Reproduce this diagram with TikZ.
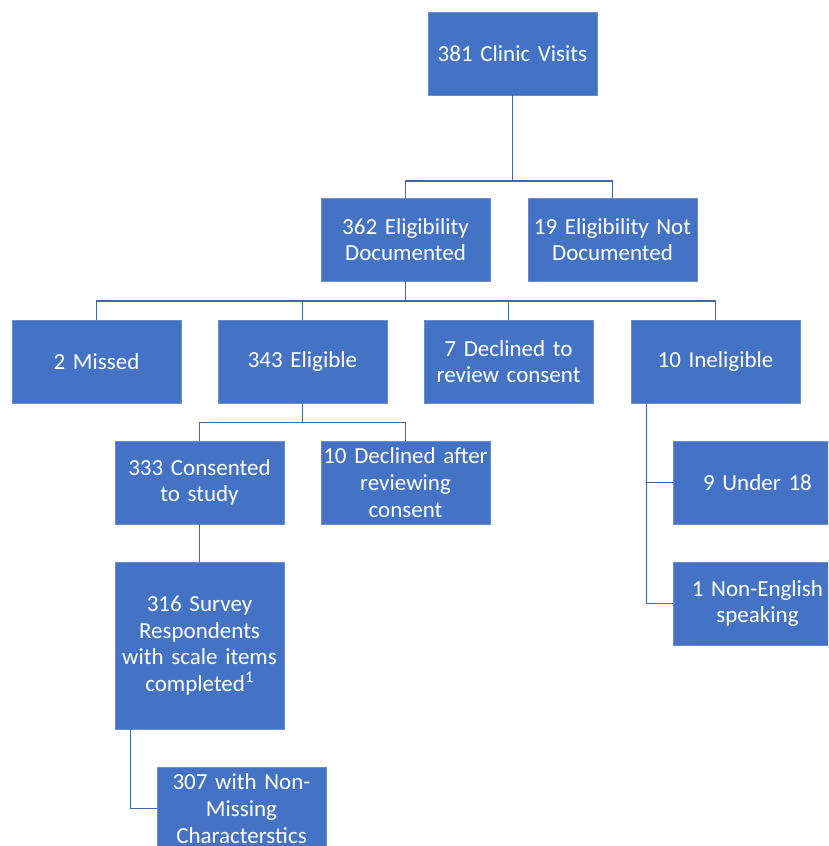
\documentclass[tikz,border=0pt]{standalone}
\usepackage{fontspec}
\setmainfont{Carlito}
\definecolor{boxblue}{RGB}{68,114,196}
\definecolor{lineblue}{RGB}{64,102,172}
\begin{document}
\begin{tikzpicture}[x=1pt,y=-1pt,line cap=butt,line join=miter]
				\tikzset{fbox/.style={fill=boxblue,draw=boxblue!80!white,line width=.6pt,text=white,
						minimum width=169pt,minimum height=83pt,text width=168pt,inner xsep=0.5pt,
						align=center,font=\fontsize{23}{26.7}\selectfont},
					tall/.style={minimum height=167pt},
					conn/.style={draw=lineblue,line width=1.4pt}}
				\useasboundingbox (0,0) rectangle (828,846);
				\clip (0,0) rectangle (828,846);
				\node[fbox] (visits) at (512.5,53.5) {381 Clinic Visits};
				\node[fbox] (eligdoc) at (405.5,239.5) {362 Eligibility\\Documented};
				\node[fbox] (notdoc) at (612.5,239.5) {19 Eligibility Not\\Documented};
				\node[fbox] (missed) at (96.5,361.5) {2 Missed};
				\node[fbox] (eligible) at (302.5,361.5) {343 Eligible};
				\node[fbox] (declrev) at (508.5,361.5) {7 Declined to\\review consent};
				\node[fbox] (inelig) at (715.5,361.5) {10 Ineligible};
				\node[fbox] (consented) at (199.5,482.5) {333 Consented\\to study};
				\node[fbox] (declafter) at (405.5,482.5) {10 Declined after\\reviewing\\consent};
				\node[fbox] (under) at (757.5,482.5) {9 Under 18};
				\node[fbox] (nonengl) at (757.5,603.5) {1 Non-English\\speaking};
				\node[fbox,tall] (survey) at (199.5,645.5) {316 Survey\\Respondents\\with scale items\\completed\textsuperscript{1}};
				\node[fbox] (nonmiss) at (241.5,808.5) {307 with Non-\\Missing\\Characterstics};
				% connectors
				\draw[conn] (visits.south) -- ++(0,85.5) -| (eligdoc.north);
				\draw[conn] (visits.south) -- ++(0,85.5) -| (notdoc.north);
				\foreach \n in {missed,eligible,declrev,inelig}
					\draw[conn] (eligdoc.south) -- ++(0,19.5) -| (\n.north);
				\draw[conn] (eligible.south) -- ++(0,19) -| (consented.north);
				\draw[conn] (eligible.south) -- ++(0,19) -| (declafter.north);
				\draw[conn] (consented) -- (survey);
				\draw[conn] ([xshift=16pt]inelig.south west) |- (under.west);
				\draw[conn] ([xshift=16pt]inelig.south west) |- (nonengl.west);
				\draw[conn] ([xshift=16pt]survey.south west) |- (nonmiss.west);
			\end{tikzpicture}
\end{document}
